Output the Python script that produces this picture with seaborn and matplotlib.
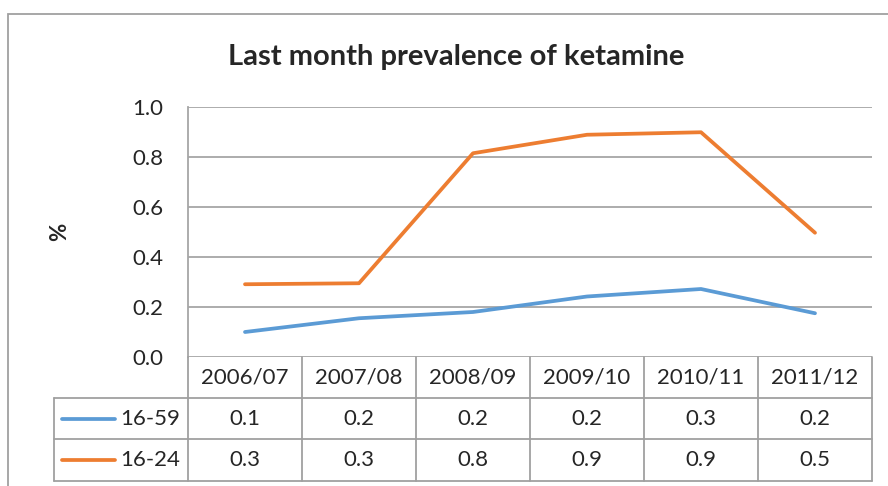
import pandas as pd
import seaborn as sns
import matplotlib.pyplot as plt
from matplotlib.transforms import blended_transform_factory
from matplotlib.lines import Line2D
from matplotlib.patches import Rectangle

years = ["2006/07", "2007/08", "2008/09", "2009/10", "2010/11", "2011/12"]
age_16_59 = [0.10, 0.155, 0.18, 0.242, 0.272, 0.175]
age_16_24 = [0.291, 0.295, 0.815, 0.889, 0.899, 0.497]
series_names = ["16-59", "16-24"]
colors = ["#5B9BD5", "#ED7D31"]

df = pd.DataFrame({
    "year": years * 2,
    "pos": list(range(len(years))) * 2,
    "value": age_16_59 + age_16_24,
    "group": [series_names[0]] * len(years) + [series_names[1]] * len(years),
})

sns.set_style("white")
plt.rcParams["font.family"] = ["Lato", "DejaVu Sans"]

W, H = 888, 486
fig = plt.figure(figsize=(W / 100, H / 100), dpi=100)

def fx(x):
    return x / W

def fy(y):
    return 1 - y / H

FS = 16

# plot area
left, top, right, bottom = 188, 107, 872, 357
ax = fig.add_axes([fx(left), fy(bottom), fx(right - left), (bottom - top) / H])
sns.lineplot(data=df, x="pos", y="value", hue="group", palette=colors,
             linewidth=2.7, ax=ax, legend=False, sort=False)
ax.set_xlim(-0.5, len(years) - 0.5)
ax.set_ylim(0, 1.0)
ticks = [0, 0.2, 0.4, 0.6, 0.8, 1.0]
ax.set_yticks(ticks)
ax.set_yticklabels([f"{v:.1f}" for v in ticks], fontsize=FS)
ax.set_xticks([])
ax.set_xlabel("")
ax.set_ylabel("")
ax.tick_params(axis="y", length=0, pad=18)
ax.grid(axis="y", color="#A6A6A6", linewidth=1.3)
for s in ["top", "right", "bottom"]:
    ax.spines[s].set_visible(False)
ax.spines["left"].set_color("#A6A6A6")
ax.spines["left"].set_linewidth(1.3)

fig.text(fx(456), fy(57), "Last month prevalence of ketamine",
         ha="center", va="center", fontsize=21, fontweight="bold")
fig.text(fx(60), fy(232), "%", ha="center", va="center", rotation=90,
         fontsize=FS, fontweight="bold")

# outer chart border
fig.patches.append(Rectangle((fx(8), fy(H + 10)), 1, fy(14) - fy(H + 10),
                             transform=fig.transFigure, fill=False,
                             edgecolor="#A0A0A0", linewidth=1.3))

# data table
grid_c = "#A0A0A0"
tr = blended_transform_factory(ax.transData, fig.transFigure)
rows = [357, 398, 439, 481]
label_left = 54
n = len(years)

def hline(x0, x1, y):
    fig.add_artist(Line2D([fx(x0), fx(x1)], [fy(y), fy(y)], color=grid_c,
                          linewidth=1.3, transform=fig.transFigure))

hline(label_left, right, rows[1])
hline(label_left, right, rows[2])
hline(label_left, right, rows[3])
fig.add_artist(Line2D([fx(label_left)] * 2, [fy(rows[1]), fy(rows[3])],
                      color=grid_c, linewidth=1.3, transform=fig.transFigure))
for i in range(n + 1):
    fig.add_artist(Line2D([i - 0.5, i - 0.5], [fy(rows[0]), fy(rows[3])],
                          color=grid_c, linewidth=1.3, transform=tr))

for i, yr in enumerate(years):
    fig.text(i, fy((rows[0] + rows[1]) / 2), yr, transform=tr,
             ha="center", va="center", fontsize=FS)

for r, (name, vals, c) in enumerate(zip(series_names, [age_16_59, age_16_24], colors)):
    yc = fy((rows[r + 1] + rows[r + 2]) / 2)
    fig.add_artist(Line2D([fx(62), fx(115)], [yc, yc], color=c, linewidth=2.7,
                          solid_capstyle="round", transform=fig.transFigure))
    fig.text(fx(120), yc, name, ha="left", va="center", fontsize=FS)
    for i, v in enumerate(vals):
        fig.text(i, yc, f"{v:.1f}", transform=tr, ha="center", va="center",
                 fontsize=FS)

fig.savefig("out.png", dpi=100)
